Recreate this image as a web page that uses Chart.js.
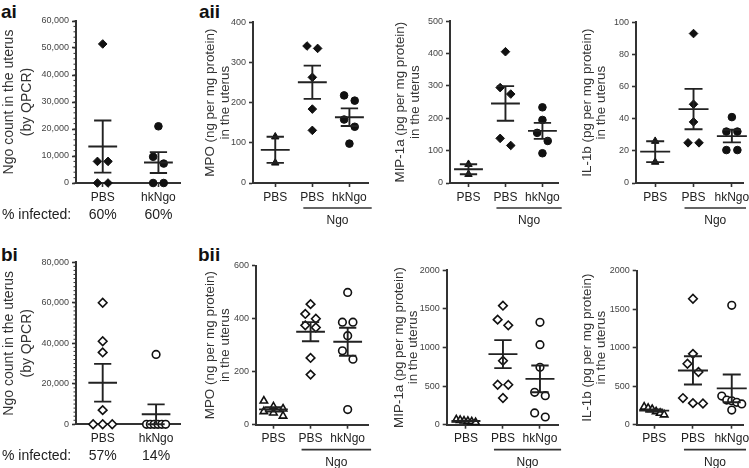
<!DOCTYPE html>
<html>
<head>
<meta charset="utf-8">
<script src="https://cdn.jsdelivr.net/npm/chart.js@4.4.0/dist/chart.umd.min.js"></script>
<style>
  body { margin: 0; background: #fff; width: 749px; height: 468px; position: relative; overflow: hidden;
         font-family: "Liberation Sans", Arial, sans-serif; }
  .panel { position: absolute; }
  .tag { position: absolute; font-weight: bold; font-size: 19px; line-height: 19px; color: #111; }
</style>
</head>
<body>
<div class="tag" style="left:1px;top:2px">ai</div>
<div class="tag" style="left:199px;top:2px">aii</div>
<div class="tag" style="left:1px;top:245px">bi</div>
<div class="tag" style="left:198px;top:245px">bii</div>

<script>
// categories and labels
const catsQ = ['PBS', 'hkNgo'];
const catsC = ['PBS', 'PBS', 'hkNgo'];
const ngoLabel = 'Ngo';
const infectedLabel = '% infected:';

const titleQ = ['Ngo count in the uterus', '(by QPCR)'];
const titleMpo = ['MPO (ng per mg protein)', 'in the uterus'];
const titleMip = ['MIP-1a (pg per mg protein)', 'in the uterus'];
const titleIl = ['IL-1b (pg per mg protein)', 'in the uterus'];

// y tick values
const ticksQa = [0, 10000, 20000, 30000, 40000, 50000, 60000];
const ticksQb = [0, 20000, 40000, 60000, 80000];
const ticksMpoA = [0, 100, 200, 300, 400];
const ticksMipA = [0, 100, 200, 300, 400, 500];
const ticksIlA = [0, 20, 40, 60, 80, 100];
const ticksMpoB = [0, 200, 400, 600];
const ticksCytB = [0, 500, 1000, 1500, 2000];

// row a (filled markers)
const aiPBS = [51500, 8000, 8000, 0, 0];
const aiHk = [21000, 9700, 7200, 0, 0];
const mpoA_ctrl = [115, 50];
const mpoA_pbs = [341, 335, 263, 184, 131];
const mpoA_hk = [218, 205, 158, 140, 98];
const mipA_ctrl = [58, 27];
const mipA_pbs = [406, 295, 275, 138, 116];
const mipA_hk = [234, 195, 155, 130, 92];
const ilA_ctrl = [26, 13];
const ilA_pbs = [93, 49, 38, 25, 25];
const ilA_hk = [41, 32, 32, 20.5, 20.5];

// row b (open markers)
const biPBS = [60000, 41000, 35500, 7000, 0, 0, 0];
const biHk = [34500, 0, 0, 0, 0, 0, 0];
const mpoB_ctrl = [90, 68, 60, 50, 45, 33];
const mpoB_pbs = [455, 418, 400, 375, 367, 252, 189];
const mpoB_hk = [499, 387, 387, 336, 279, 247, 57];
const mipB_ctrl = [65, 58, 50, 45, 38, 30];
const mipB_pbs = [1542, 1361, 1287, 829, 518, 518, 346];
const mipB_hk = [1326, 1037, 743, 419, 376, 153, 100];
const ilB_ctrl = [230, 215, 200, 170, 150, 130];
const ilB_pbs = [1636, 920, 792, 684, 346, 280, 275];
const ilB_hk = [1550, 372, 320, 311, 290, 270, 190];

const FONT = '"Liberation Sans", Arial, sans-serif';
Chart.defaults.font.family = FONT;

function meanSem(v) {
  const n = v.length;
  const m = v.reduce((a, b) => a + b, 0) / n;
  const sd = Math.sqrt(v.reduce((a, b) => a + (b - m) * (b - m), 0) / (n - 1));
  return [m, sd / Math.sqrt(n)];
}

// simple column scatter: close values get spread sideways
function swarm(v, thr, sp) {
  const idx = v.map((_, i) => i).sort((a, b) => v[b] - v[a]);
  const off = new Array(v.length).fill(0);
  let k = 0;
  while (k < idx.length) {
    let j = k;
    while (j + 1 < idx.length && v[idx[k]] - v[idx[j + 1]] < thr) j++;
    const n = j - k + 1;
    const gap = n > 1 ? Math.min(11, 20 / (n - 1)) : 0;
    for (let q = 0; q < n; q++) off[idx[k + q]] = (q - (n - 1) / 2) * gap / sp;
    k = j + 1;
  }
  return off;
}

const marks3 = ['triangle', 'rectRot', 'circle'];
const marks2 = ['rectRot', 'circle'];

const panels = [
  {left: 0, top: 0, w: 186, h: 228, axisX: 76, yTop: 21, yBot: 183, xEnd: 185, xMin: 0.52, xMax: 2.4,
   cats: catsQ, groups: [aiPBS, aiHk], ticks: ticksQa, title: titleQ, titleX: 9, lh: 18, tf: 14,
   marks: marks2, open: false, minor: 2000, infected: true, comma: true},
  {left: 186, top: 0, w: 188, h: 228, axisX: 253, yTop: 22.3, yBot: 183, xEnd: 373, xMin: 0.4, xMax: 3.52,
   cats: catsC, groups: [mpoA_ctrl, mpoA_pbs, mpoA_hk], ticks: ticksMpoA, title: titleMpo, titleX: 210.7, lh: 14.5, tf: 13.4,
   marks: marks3, open: false, ngo: true},
  {left: 374, top: 0, w: 190, h: 228, axisX: 450, yTop: 21.3, yBot: 183, xEnd: 563, xMin: 0.5, xMax: 3.44,
   cats: catsC, groups: [mipA_ctrl, mipA_pbs, mipA_hk], ticks: ticksMipA, title: titleMip, titleX: 400.7, lh: 14.5, tf: 13.4,
   marks: marks3, open: false, ngo: true},
  {left: 564, top: 0, w: 185, h: 228, axisX: 636, yTop: 22.3, yBot: 183, xEnd: 743, xMin: 0.5, xMax: 3.29,
   cats: catsC, groups: [ilA_ctrl, ilA_pbs, ilA_hk], ticks: ticksIlA, title: titleIl, titleX: 587.3, lh: 14.5, tf: 13.4,
   marks: marks3, open: false, ngo: true},
  {left: 0, top: 228, w: 186, h: 240, axisX: 76, yTop: 262.3, yBot: 424.3, xEnd: 185, xMin: 0.5, xMax: 2.45,
   cats: catsQ, groups: [biPBS, biHk], ticks: ticksQb, title: titleQ, titleX: 9, lh: 18, tf: 14,
   marks: marks2, open: true, minor: 2000, infected: true, comma: true},
  {left: 186, top: 228, w: 188, h: 240, axisX: 256, yTop: 265.7, yBot: 424.7, xEnd: 373, xMin: 0.53, xMax: 3.55,
   cats: catsC, groups: [mpoB_ctrl, mpoB_pbs, mpoB_hk], ticks: ticksMpoB, title: titleMpo, titleX: 210.7, lh: 14.5, tf: 13.4,
   marks: marks3, open: true, ngo: true},
  {left: 374, top: 228, w: 190, h: 240, axisX: 446.7, yTop: 270.3, yBot: 424.7, xEnd: 562, xMin: 0.48, xMax: 3.49,
   cats: catsC, groups: [mipB_ctrl, mipB_pbs, mipB_hk], ticks: ticksCytB, title: titleMip, titleX: 399, lh: 14.5, tf: 13.4,
   marks: marks3, open: true, ngo: true},
  {left: 564, top: 228, w: 185, h: 240, axisX: 636.7, yTop: 270.7, yBot: 424.7, xEnd: 743, xMin: 0.55, xMax: 3.29,
   cats: catsC, groups: [ilB_ctrl, ilB_pbs, ilB_hk], ticks: ticksCytB, title: titleIl, titleX: 587.3, lh: 14.5, tf: 13.4,
   marks: marks3, open: true, ngo: true},
];

function makePanel(p) {
  const wrap = document.createElement('div');
  wrap.className = 'panel';
  Object.assign(wrap.style, {left: p.left + 'px', top: p.top + 'px', width: p.w + 'px', height: p.h + 'px'});
  const cv = document.createElement('canvas');
  wrap.appendChild(cv);
  document.body.appendChild(wrap);

  const sp = (p.xEnd - p.axisX) / (p.xMax - p.xMin);   // px per category
  const yMax = p.ticks[p.ticks.length - 1];
  const datasets = [];

  // mean +/- SEM bars (drawn on top)
  p.groups.forEach((vals, i) => {
    const c = i + 1;
    const [m, se] = meanSem(vals);
    const w1 = 15 / sp, w2 = 9 / sp;
    datasets.push({
      type: 'line',
      data: [
        {x: c - w1, y: m}, {x: c + w1, y: m}, {x: c, y: null},
        {x: c, y: m - se}, {x: c, y: m + se}, {x: c, y: null},
        {x: c - w2, y: m + se}, {x: c + w2, y: m + se}, {x: c, y: null},
        {x: c - w2, y: m - se}, {x: c + w2, y: m - se}
      ],
      borderColor: '#222', borderWidth: 1.9, pointRadius: 0, spanGaps: false,
      clip: false, order: 0
    });
  });

  p.groups.forEach((vals, i) => {
    const c = i + 1;
    const off = swarm(vals, 0.06 * yMax, sp);
    const st = p.marks[i];
    datasets.push({
      type: 'scatter',
      data: vals.map((v, k) => ({x: c + off[k], y: v})),
      pointStyle: st,
      pointRadius: st === 'circle' ? 3.8 : 4.3,
      backgroundColor: p.open ? '#fff' : '#111',
      borderColor: '#111',
      borderWidth: p.open ? 1.6 : 1,
      clip: false, order: 1
    });
  });

  const extras = {
    id: 'extras',
    afterDraw(chart) {
      const {ctx, chartArea: a, scales: {x, y}} = chart;
      ctx.save();
      ctx.strokeStyle = '#333';
      ctx.fillStyle = '#222';
      if (p.minor) {
        ctx.lineWidth = 1;
        for (let v = 0; v <= yMax; v += p.minor) {
          const py = y.getPixelForValue(v);
          ctx.beginPath();
          ctx.moveTo(a.left - 2.5, py);
          ctx.lineTo(a.left, py);
          ctx.stroke();
        }
      }
      if (p.ngo) {
        const x0 = x.getPixelForValue(2) - 9;
        const x1 = Math.min(a.right + 3, chart.width - 1);
        ctx.lineWidth = 1.7;
        ctx.beginPath();
        ctx.moveTo(x0, a.bottom + 25);
        ctx.lineTo(x1, a.bottom + 25);
        ctx.stroke();
        ctx.font = '12px ' + FONT;
        ctx.textAlign = 'center';
        ctx.textBaseline = 'middle';
        ctx.fillText(ngoLabel, (x0 + x1) / 2, a.bottom + 38);
      }
      if (p.infected) {
        ctx.font = '14px ' + FONT;
        ctx.textBaseline = 'middle';
        ctx.textAlign = 'left';
        ctx.fillText(infectedLabel, 2, a.bottom + 32);
        ctx.textAlign = 'center';
        p.groups.forEach((vals, i) => {
          const pct = Math.round(100 * vals.filter(v => v > 0).length / vals.length);
          ctx.fillText(pct + '%', x.getPixelForValue(i + 1), a.bottom + 32);
        });
      }
      ctx.restore();
    }
  };

  const yW = p.axisX - p.left;
  const xH = p.h - (p.yBot - p.top);
  const titlePad = p.titleX - p.left - p.lh / 2;

  new Chart(cv, {
    type: 'scatter',
    data: {datasets},
    options: {
      responsive: true,
      maintainAspectRatio: false,
      animation: false,
      events: [],
      layout: {padding: {left: 0, bottom: 0, top: p.yTop - p.top, right: p.w - (p.xEnd - p.left)}},
      plugins: {legend: {display: false}, tooltip: {enabled: false}},
      scales: {
        x: {
          type: 'linear', min: p.xMin, max: p.xMax,
          afterBuildTicks: s => { s.ticks = p.cats.map((_, i) => ({value: i + 1})); },
          afterFit: s => { s.height = xH; s.paddingLeft = 0; s.paddingRight = 0; },
          ticks: {
            callback: (v, i) => p.cats[i],
            autoSkip: false, maxRotation: 0, padding: 3,
            color: '#222', font: {size: 12}
          },
          grid: {drawOnChartArea: false, tickLength: 4, tickColor: '#333', tickWidth: 1.6},
          border: {color: '#333', width: 2}
        },
        y: {
          type: 'linear', min: 0, max: yMax,
          afterBuildTicks: s => { s.ticks = p.ticks.map(v => ({value: v})); },
          afterFit: s => { s.width = yW; s.paddingTop = 0; s.paddingBottom = 0; },
          ticks: {
            callback: v => p.comma ? v.toLocaleString('en-US') : String(v),
            padding: 3, color: '#444', font: {size: 9}
          },
          grid: {drawOnChartArea: false, tickLength: 4, tickColor: '#333', tickWidth: 1.6},
          border: {color: '#333', width: 2},
          title: {
            display: true, text: p.title, color: '#333',
            font: {size: p.tf, lineHeight: p.lh / p.tf},
            padding: {top: titlePad, bottom: 0}
          }
        }
      }
    },
    plugins: [extras]
  });
}

panels.forEach(makePanel);
</script>
</body>
</html>
